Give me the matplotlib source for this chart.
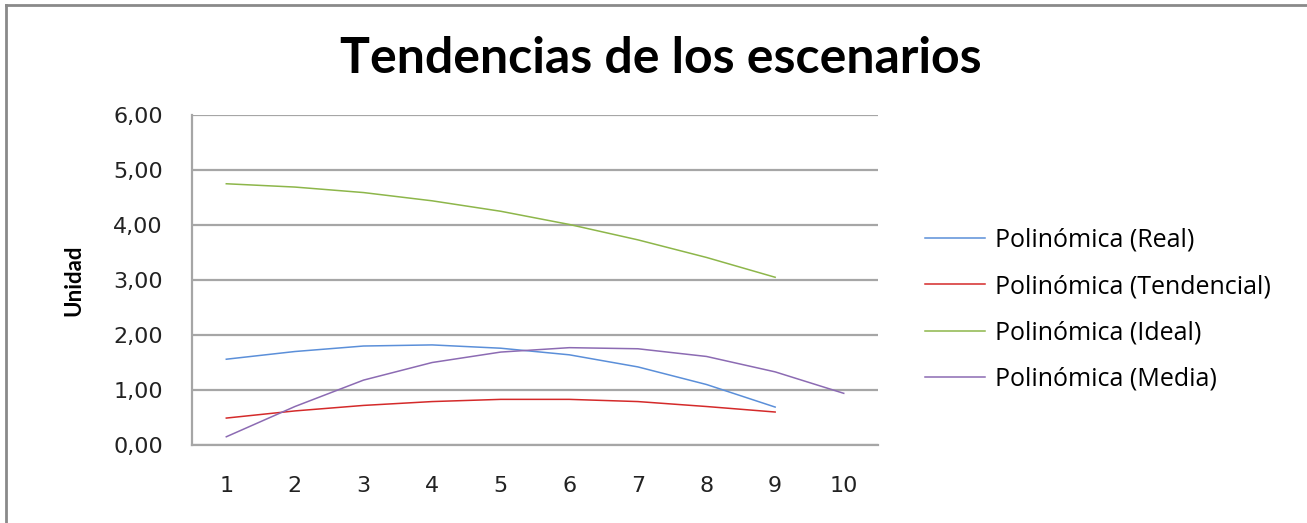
import numpy as np
import matplotlib.pyplot as plt
from matplotlib.lines import Line2D
from matplotlib.ticker import FuncFormatter

plt.rcParams['font.family'] = ['Lato', 'DejaVu Sans']

x9 = [1, 2, 3, 4, 5, 6, 7, 8, 9]
x10 = [1, 2, 3, 4, 5, 6, 7, 8, 9, 10]
real = [1.56, 1.70, 1.80, 1.82, 1.76, 1.64, 1.42, 1.10, 0.69]
tendencial = [0.49, 0.62, 0.72, 0.79, 0.83, 0.83, 0.79, 0.70, 0.60]
ideal = [4.75, 4.69, 4.59, 4.44, 4.25, 4.01, 3.73, 3.41, 3.05]
media = [0.15, 0.70, 1.18, 1.50, 1.69, 1.77, 1.75, 1.61, 1.33, 0.94]

labels = ["Polinómica (Real)", "Polinómica (Tendencial)",
          "Polinómica (Ideal)", "Polinómica (Media)"]
colors = ["#5B8FD9", "#D42A2A", "#8DB64A", "#8C6BB3"]

fig = plt.figure(figsize=(13.07, 5.23), dpi=100)
ax = fig.add_axes([0.1469, 0.1491, 0.5249, 0.6310])

ax.plot(x9, real, color=colors[0], lw=1.1, label=labels[0])
ax.plot(x9, tendencial, color=colors[1], lw=1.1, label=labels[1])
ax.plot(x9, ideal, color=colors[2], lw=1.1, label=labels[2])
ax.plot(x10, media, color=colors[3], lw=1.1, label=labels[3])

ax.set_xlim(0.5, 10.5)
ax.set_ylim(0, 6)
ax.set_xticks(x10)
ax.set_yticks(np.arange(0, 7, 1))
ax.yaxis.set_major_formatter(FuncFormatter(lambda v, p: f"{v:.2f}".replace(".", ",")))
ax.tick_params(axis='x', length=0, pad=22, labelsize=16, colors='#222222')
ax.tick_params(axis='y', length=0, pad=21, labelsize=16, colors='#222222')
for lab in ax.get_xticklabels() + ax.get_yticklabels():
    lab.set_family('DejaVu Sans')
ax.grid(axis='y', color='#A6A6A6', lw=1.6)
ax.set_axisbelow(True)
for s in ['top', 'right']:
    ax.spines[s].set_visible(False)
ax.spines['left'].set_color('#A6A6A6')
ax.spines['left'].set_linewidth(1.6)
ax.spines['bottom'].set_color('#A6A6A6')
ax.spines['bottom'].set_linewidth(1.6)

ax.set_ylabel("Unidad", fontsize=16, fontweight='bold', labelpad=21)

fig.text(0.5055, 0.888, "Tendencias de los escenarios", ha='center', va='center',
         fontsize=36, fontweight='bold')

ax.legend(loc='center left', bbox_to_anchor=(1.035, 0.41), frameon=False,
          prop={'family': 'Open Sans', 'size': 18},
          handlelength=2.4, handletextpad=0.4, labelspacing=0.85)

# borde del grafico
fig.add_artist(Line2D([0.0046, 0.0046], [0, 0.99], color='#8A8A8A', lw=2))
fig.add_artist(Line2D([0.0046, 1], [0.99, 0.99], color='#8A8A8A', lw=2))

fig.savefig("out.png", dpi=100)
